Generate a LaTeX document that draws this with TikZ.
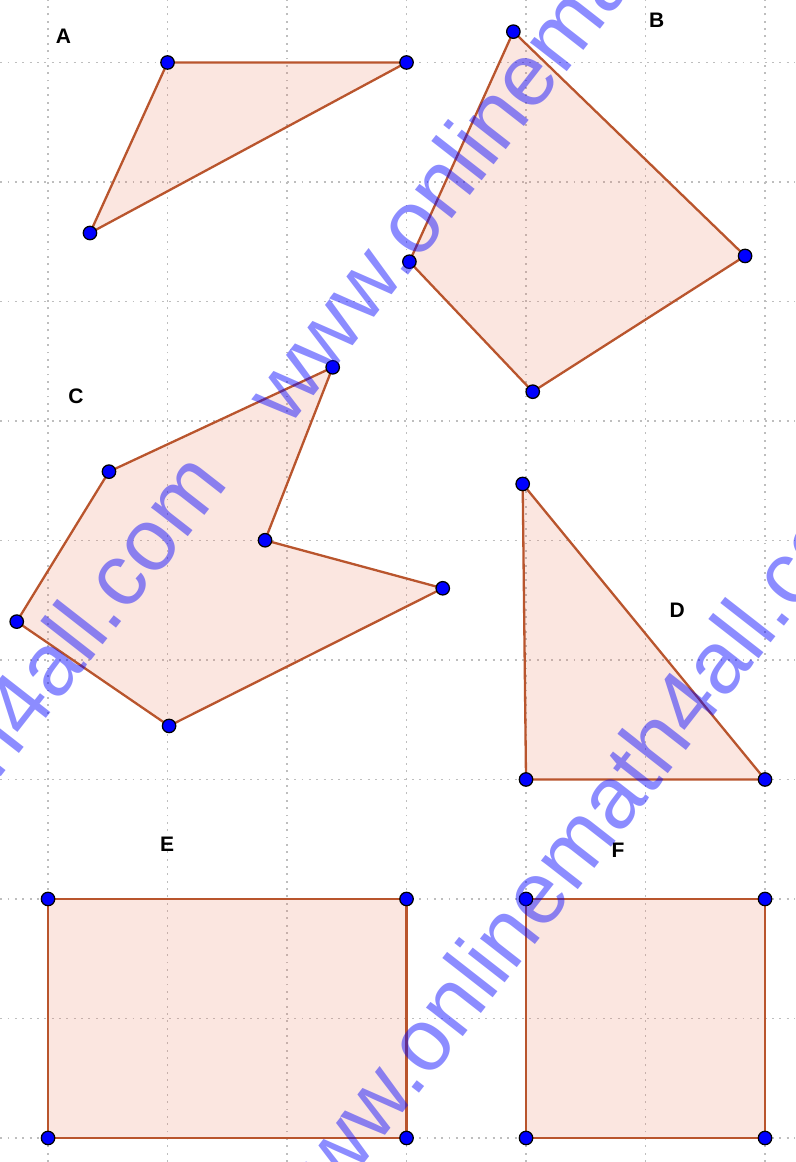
\documentclass[tikz,border=0pt]{standalone}
\usepackage{fontspec}
\setmainfont{Liberation Sans}
\definecolor{edgebrown}{RGB}{185,85,45}
\definecolor{fillpink}{RGB}{235,115,85}
\definecolor{gridgray}{RGB}{190,190,190}
\begin{document}
\begin{tikzpicture}[
        gridline/.style={gridgray,line width=0.45pt,dash pattern=on 0.45pt off 1.3pt},
        poly/.style={draw=edgebrown,line width=0.55pt,fill=fillpink,fill opacity=0.18,line join=round},
        pt/.style={circle,fill=blue,draw=black,line width=0.3pt,minimum size=3.2pt,inner sep=0pt},
        lbl/.style={font=\fontsize{5}{5}\selectfont\bfseries,inner sep=0pt},
        wmark/.style={font=\fontsize{21}{21}\selectfont,text=blue,text opacity=0.45,
            rotate=52,anchor=base west,inner sep=0pt}]
\useasboundingbox (-0.402,-0.201) rectangle (6.251,9.523);
\clip (-0.402,-0.201) rectangle (6.251,9.523);

\foreach \x in {0,...,6} \draw[gridline] (\x,-0.2) -- (\x,9.55);
\foreach \y in {0,...,9} \draw[gridline] (-0.4,\y) -- (6.25,\y);

% A
\coordinate (A1) at (1,9);
\coordinate (A2) at (3,9);
\coordinate (A3) at (0.351,7.573);
\draw[poly] (A1) -- (A2) -- (A3) -- cycle;
% B
\coordinate (B1) at (3.894,9.258);
\coordinate (B2) at (5.833,7.381);
\coordinate (B3) at (4.056,6.245);
\coordinate (B4) at (3.024,7.333);
\draw[poly] (B1) -- (B2) -- (B3) -- (B4) -- cycle;
% C
\coordinate (C1) at (2.382,6.449);
\coordinate (C2) at (1.816,5.002);
\coordinate (C3) at (3.303,4.600);
\coordinate (C4) at (1.013,3.448);
\coordinate (C5) at (-0.262,4.321);
\coordinate (C6) at (0.510,5.576);
\draw[poly] (C1) -- (C2) -- (C3) -- (C4) -- (C5) -- (C6) -- cycle;
% D
\coordinate (D1) at (3.972,5.473);
\coordinate (D2) at (4,3);
\coordinate (D3) at (6,3);
\draw[poly] (D1) -- (D2) -- (D3) -- cycle;
% E
\coordinate (E1) at (0,2);
\coordinate (E2) at (3,2);
\coordinate (E3) at (3,0);
\coordinate (E4) at (0,0);
\draw[poly] (E1) -- (E2) -- (E3) -- (E4) -- cycle;
% F
\coordinate (F1) at (4,2);
\coordinate (F2) at (6,2);
\coordinate (F3) at (6,0);
\coordinate (F4) at (4,0);
\draw[poly] (F1) -- (F2) -- (F3) -- (F4) -- cycle;

\foreach \p in {A1,A2,A3,B1,B2,B3,B4,C1,C2,C3,C4,C5,C6,D1,D2,D3,E1,E2,E3,E4,F1,F2,F3,F4}
    \node[pt] (dot\p) at (\p) {};

\node[lbl] (labA) at (0.128,9.222) {A};
\node[lbl] (labB) at (5.094,9.350) {B};
\node[lbl] (labC) at (0.234,6.209) {C};
\node[lbl] (labD) at (5.264,4.418) {D};
\node[lbl] (labE) at (0.996,2.460) {E};
\node[lbl] (labF) at (4.770,2.410) {F};

\node[wmark] (wm1) at (2.008,5.933) {www.onlinemath4all.com};
\node[wmark] (wm2) at (-3.485,-0.929) {www.onlinemath4all.com};
\node[wmark] (wm3) at (2.100,-0.912) {www.onlinemath4all.com};
\end{tikzpicture}
\end{document}
